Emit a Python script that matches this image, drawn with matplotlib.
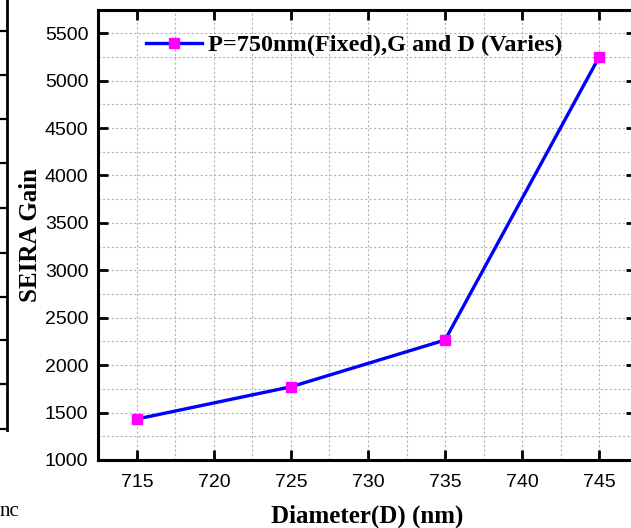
import matplotlib.pyplot as plt
from matplotlib.ticker import MultipleLocator
from matplotlib.lines import Line2D

# data
diameter = [715, 725, 735, 745]
gain = [1432, 1772, 2265, 5248]
series_label = "P=750nm(Fixed),G and D (Varies)"

fig = plt.figure(figsize=(6.31, 5.28), dpi=100)
W, H = 631, 528
ax = fig.add_axes([98 / W, 68 / H, (636 - 98) / W, (460 - 10) / H])

ax.plot(diameter, gain, color='blue', lw=2.4, marker='s', markersize=7,
        markerfacecolor='magenta', markeredgecolor='magenta',
        label=series_label, zorder=3)

ax.set_xlim(712.47, 747.4)
ax.set_ylim(1000, 5745)
ax.xaxis.set_major_locator(MultipleLocator(5))
ax.xaxis.set_minor_locator(MultipleLocator(2.5))
ax.yaxis.set_major_locator(MultipleLocator(500))
ax.yaxis.set_minor_locator(MultipleLocator(250))

ax.grid(True, which='both', color='#b4b4b4', ls=(0, (2, 2)), lw=0.8)
ax.tick_params(which='major', direction='in', length=7, width=2,
               top=True, right=True, labelsize=14)
ax.tick_params(axis='x', pad=10)
ax.tick_params(axis='y', pad=7)
ax.tick_params(which='minor', length=0)
for lab in ax.get_xticklabels() + ax.get_yticklabels():
    lab.set_family('Liberation Sans')
for sp in ax.spines.values():
    sp.set_linewidth(2.2)

ax.set_xlabel("Diameter(D) (nm)", family='Liberation Serif', weight='bold',
              fontsize=18, labelpad=10)
ax.set_ylabel("SEIRA Gain", family='Liberation Serif', weight='bold',
              fontsize=18, va='center')
ax.yaxis.set_label_coords(-0.126, 0.5)

ax.legend(loc='upper left', bbox_to_anchor=(0.049, 0.995), frameon=False,
          handlelength=2.3, handletextpad=0.25,
          prop={'family': 'Liberation Serif', 'weight': 'bold', 'size': 17.5})

# remains of the neighbouring panel on the left edge
fig.add_artist(Line2D([7 / W, 7 / W], [1, 1 - 430 / H], color='black', lw=2,
                      transform=fig.transFigure))
for yp in [31, 75, 119, 163, 208, 253, 297, 340, 384, 429]:
    fig.add_artist(Line2D([0, 7 / W], [1 - yp / H, 1 - yp / H], color='black',
                          lw=1.6, transform=fig.transFigure))
fig.text(0, 1 - 512 / H, "nc", family='Liberation Serif', fontsize=15,
         va='center', ha='left')

fig.savefig("out.png", dpi=100)
